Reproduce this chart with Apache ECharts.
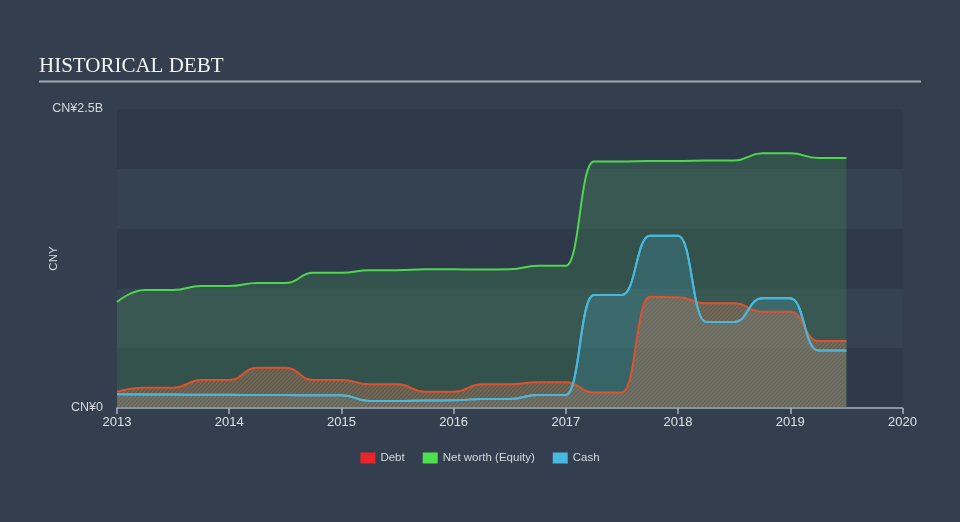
<!DOCTYPE html>
<html>
<head>
<meta charset="utf-8">
<style>
html,body{margin:0;padding:0;background:#333f4f;}
#chart{width:960px;height:522px;}
</style>
<script src="https://cdn.jsdelivr.net/npm/echarts@6/dist/echarts.min.js"></script>
</head>
<body>
<div id="chart"></div>
<script>
// Quarterly periods (decimal years)
var periods = [2013.0,2013.25,2013.5,2013.75,2014.0,2014.25,2014.5,2014.75,2015.0,2015.25,2015.5,2015.75,2016.0,2016.25,2016.5,2016.75,2017.0,2017.25,2017.5,2017.75,2018.0,2018.25,2018.5,2018.75,2019.0,2019.25,2019.5];
// Values in CNY billions
var debt = [0.136,0.17,0.17,0.234,0.234,0.337,0.337,0.234,0.234,0.198,0.198,0.136,0.136,0.198,0.198,0.215,0.215,0.13,0.13,0.93,0.925,0.875,0.875,0.805,0.805,0.56,0.56];
var netWorth = [0.886,0.987,0.987,1.02,1.02,1.045,1.045,1.13,1.13,1.152,1.152,1.16,1.16,1.158,1.16,1.19,1.19,2.06,2.06,2.065,2.065,2.07,2.07,2.13,2.13,2.09,2.09];
var cash = [0.114,0.113,0.112,0.111,0.110,0.109,0.108,0.107,0.106,0.058,0.058,0.062,0.065,0.075,0.075,0.109,0.109,0.945,0.945,1.44,1.44,0.72,0.72,0.917,0.917,0.48,0.48];
var yTickLabels = {0: 'CN¥0', 2.5: 'CN¥2.5B'};
var seriesNames = ['Debt', 'Net worth (Equity)', 'Cash'];

function pairs(vals){ return periods.map(function(p,i){ return [p, vals[i]]; }); }

// hatch pattern for debt area
var pc = document.createElement('canvas');
pc.width = 4; pc.height = 4;
var ctx = pc.getContext('2d');
ctx.fillStyle = 'rgba(140,150,145,0.33)';
ctx.fillRect(0,0,4,4);
ctx.strokeStyle = 'rgba(210,105,65,0.8)';
ctx.lineWidth = 1.4;
ctx.beginPath();
ctx.moveTo(-1,5); ctx.lineTo(5,-1);
ctx.moveTo(-1,1); ctx.lineTo(1,-1);
ctx.moveTo(3,5); ctx.lineTo(5,3);
ctx.stroke();

var font = '"Liberation Sans", Arial, sans-serif';
var chart = echarts.init(document.getElementById('chart'), null, {renderer:'canvas'});
var option = {
  backgroundColor: '#333f4f',
  animation: false,
  graphic: [
    {type:'text', left:39, top:56, style:{text:'HISTORICAL DEBT', fill:'#f4f4f4', font:'21px "Liberation Serif", serif'}},
    {type:'rect', shape:{x:39, y:80.5, width:882, height:2}, style:{fill:'#a3abb5'}}
  ],
  legend: {
    top: 447, left: 'center',
    itemWidth: 15, itemHeight: 11, itemGap: 18,
    icon: 'rect',
    textStyle: {color:'#d4d8dd', fontSize: 11.5, fontFamily: font},
    data: seriesNames
  },
  grid: {left:117, right:57.5, top:109, bottom:114},
  xAxis: {
    type:'value', min:2013, max:2020, interval:1,
    axisLine:{show:true, lineStyle:{color:'#aab2bd', width:1.5}},
    axisTick:{show:true, length:6, lineStyle:{color:'#aab2bd', width:1.5}},
    axisLabel:{color:'#dde1e5', fontSize:13, margin:8, fontFamily: font,
      formatter:function(v){ return String(v); }},
    splitLine:{show:false}
  },
  yAxis: {
    type:'value', min:0, max:2.5, interval:0.5,
    name:'CNY', nameLocation:'middle', nameGap:57, nameRotate:90, nameMoveOverlap:false,
    nameTextStyle:{color:'#d4d8dd', fontSize:11.5, fontFamily: font},
    axisLine:{show:false}, axisTick:{show:false},
    axisLabel:{color:'#d4d8dd', fontSize:12.5, margin:14, fontFamily: font,
      formatter:function(v){ return yTickLabels[v] !== undefined ? yTickLabels[v] : ''; }},
    splitLine:{show:false},
    splitArea:{show:true, areaStyle:{color:['#2e3a4a','#354251']}}
  },
  series: [
    {name:'Net worth (Equity)', type:'line', data:pairs(netWorth), smooth:0.5, smoothMonotone:'x', symbol:'none',
      itemStyle:{color:'#4ee04e'}, lineStyle:{color:'#4fd64f', width:2},
      areaStyle:{color:'rgba(78,200,90,0.24)'}, z:2},
    {name:'Cash', type:'line', data:pairs(cash), smooth:0.5, smoothMonotone:'x', symbol:'none',
      itemStyle:{color:'#47b8e0'}, lineStyle:{color:'#4ab8dc', width:2},
      areaStyle:{color:'rgba(74,185,221,0.27)'}, z:3},
    {name:'Debt', type:'line', data:pairs(debt), smooth:0.5, smoothMonotone:'x', symbol:'none',
      itemStyle:{color:'#e8262a'}, lineStyle:{color:'#dd522e', width:2},
      areaStyle:{color:{image:pc, repeat:'repeat'}}, z:4},
    {name:'CashLine', type:'line', data:pairs(cash), smooth:0.5, smoothMonotone:'x', symbol:'none',
      lineStyle:{color:'#4ab8dc', width:2}, z:5, silent:true}
  ]
};
chart.setOption(option);
</script>
</body>
</html>
